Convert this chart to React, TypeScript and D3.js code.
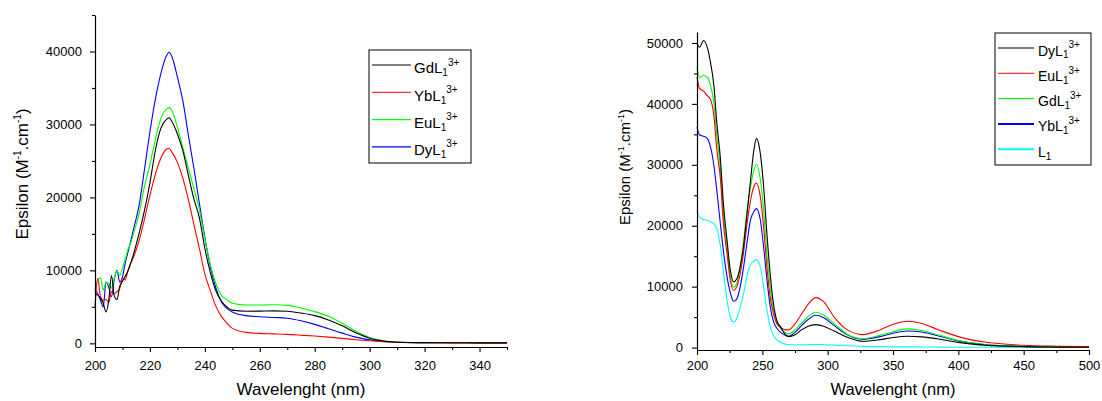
import React, { useEffect, useRef } from 'react';
import * as d3 from 'd3';

// ---------- Left panel data ----------
const LEFT_WL = [200, 201, 202, 203, 204, 205, 206, 207, 208, 209, 210, 211, 212, 213, 214, 216, 218, 220, 222, 224, 226, 227, 228, 230, 232, 234, 236, 238, 240, 242, 244, 246, 248, 250, 255, 260, 265, 270, 275, 280, 285, 290, 295, 300, 305, 310, 320, 330, 340, 350];
const LEFT_GD = [6800, 6600, 6200, 5500, 4300, 5900, 9300, 6500, 6000, 7800, 8500, 9200, 9900, 11000, 12200, 15000, 18200, 22000, 26500, 29500, 30700, 30900, 30400, 28700, 26400, 23000, 19800, 17200, 13000, 9700, 7200, 5800, 5000, 4550, 4400, 4420, 4450, 4400, 4150, 3800, 3200, 2400, 1450, 700, 320, 150, 100, 80, 70, 60];
const LEFT_YB = [5000, 8900, 6400, 5900, 6000, 5600, 7100, 6800, 7100, 7500, 8900, 8700, 10000, 11000, 11800, 14000, 17000, 20300, 23200, 25400, 26600, 26700, 26200, 24800, 22600, 19700, 16300, 13000, 9500, 7200, 5100, 3700, 2800, 2050, 1500, 1370, 1300, 1230, 1120, 1000, 850, 680, 500, 360, 240, 160, 90, 70, 60, 60];
const LEFT_EU = [7300, 8700, 9000, 7300, 8300, 8200, 7600, 8900, 9900, 9300, 10300, 11500, 12900, 13700, 15000, 17700, 21500, 24500, 28000, 30800, 32100, 32300, 31900, 29600, 26800, 24000, 21200, 18300, 14300, 10800, 8200, 6600, 6000, 5500, 5250, 5250, 5300, 5200, 4850, 4350, 3700, 2750, 1650, 800, 350, 170, 100, 80, 70, 60];
const LEFT_DY = [7300, 6800, 5900, 5000, 8400, 7700, 6400, 8700, 10000, 8400, 9100, 11000, 12500, 14000, 15600, 18800, 23800, 29000, 33500, 37000, 39400, 39900, 39300, 36500, 33200, 28500, 24000, 19200, 14500, 10500, 7600, 5700, 4800, 4300, 3800, 3650, 3550, 3450, 3100, 2600, 2000, 1400, 850, 480, 260, 160, 100, 80, 70, 60];
const LEFT_NAMES = ['GdL', 'YbL', 'EuL', 'DyL'];
const LEFT_X_MAJOR = [200, 220, 240, 260, 280, 300, 320, 340];
const LEFT_X_MINOR = [210, 230, 250, 270, 290, 310, 330, 350];
const LEFT_Y_MAJOR = [0, 10000, 20000, 30000, 40000];
const LEFT_Y_MINOR = [5000, 15000, 25000, 35000, 45000];

// ---------- Right panel data ----------
const RIGHT_WL = [200, 202, 205, 208, 210, 213, 215, 218, 220, 223, 225.5, 228, 230.5, 233, 235.5, 238, 241, 243.5, 245.5, 248.5, 251, 253.5, 256, 258.5, 261, 264, 267, 270, 275, 280, 285, 291, 297, 305, 315, 327, 340, 350, 361, 372, 385, 400, 420, 450, 475, 500];
const RIGHT_DY = [50000, 49300, 50400, 49200, 47200, 42800, 37300, 30750, 24200, 17600, 12700, 10800, 11300, 13200, 16500, 21400, 27500, 32400, 34300, 31800, 26400, 18700, 12100, 7200, 4500, 3400, 2300, 1800, 2100, 2900, 3500, 3770, 3500, 2700, 1700, 1030, 1300, 1650, 1850, 1750, 1400, 850, 400, 150, 80, 50];
const RIGHT_EU = [44400, 42500, 42100, 41300, 40900, 37900, 32900, 27500, 20900, 15400, 11050, 9400, 10000, 12100, 15400, 19800, 24200, 26400, 27000, 24700, 19800, 13200, 8300, 5580, 3940, 3300, 2950, 2900, 3900, 5500, 7100, 8200, 7500, 5000, 2900, 2130, 2900, 3800, 4320, 3950, 2900, 1800, 900, 380, 220, 150];
const RIGHT_GD = [46000, 44300, 44700, 44300, 43300, 40000, 35100, 29100, 22500, 16500, 11600, 9900, 10500, 13200, 17100, 22000, 26400, 29100, 30100, 27500, 22500, 15400, 9950, 6100, 4200, 3100, 2500, 2250, 2900, 4000, 5100, 5800, 5300, 3900, 2200, 1480, 2000, 2600, 3060, 2800, 2050, 1150, 500, 200, 100, 60];
const RIGHT_YB = [36200, 34900, 34700, 34300, 33200, 29800, 26100, 20100, 16200, 11600, 9000, 7600, 8000, 9950, 13000, 16800, 21000, 22300, 22800, 20900, 16500, 11200, 6800, 4300, 3200, 2500, 2100, 1850, 2500, 3600, 4600, 5300, 4900, 3600, 2100, 1360, 1800, 2350, 2720, 2550, 1900, 1100, 480, 180, 90, 50];
const RIGHT_L1 = [22400, 21400, 21000, 20900, 20700, 20300, 19600, 16500, 12800, 7760, 5020, 4200, 4760, 6660, 8700, 11600, 13600, 14200, 14400, 13200, 9950, 6200, 3500, 2000, 1250, 850, 600, 500, 460, 450, 480, 500, 470, 400, 300, 200, 150, 120, 110, 100, 80, 60, 40, 30, 20, 10];
const RIGHT_NAMES = ['DyL', 'EuL', 'GdL', 'YbL', 'L'];
const RIGHT_X_MAJOR = [200, 250, 300, 350, 400, 450, 500];
const RIGHT_X_MINOR = [225, 275, 325, 375, 425, 475];
const RIGHT_Y_MAJOR = [0, 10000, 20000, 30000, 40000, 50000];
const RIGHT_Y_MINOR = [5000, 15000, 25000, 35000, 45000];

const FONT = '"Liberation Sans", Arial, Helvetica, sans-serif';

type Series = { name: string; sup: boolean; color: string; values: number[]; legendWidth: number };

type Panel = {
  left: number; right: number; top: number; bottom: number;
  xDomain: [number, number]; yDomain: [number, number];
  wl: number[]; series: Series[]; drawOrder: number[];
  xMajor: number[]; xMinor: number[]; yMajor: number[]; yMinor: number[];
  xPad: number; yPad: number; tickFont: number;
  xTitleX: number; xTitleY: number; xTitleFont: number;
  yTitleX: number; yTitleY: number; yTitleFont: number;
  legend: { x: number; y: number; w: number; h: number; firstY: number; step: number; lineX0: number; lineX1: number; textX: number; font: number; baseOff: number };
};

function drawPanel(svg: d3.Selection<SVGSVGElement, unknown, null, undefined>, p: Panel) {
  const x = d3.scaleLinear().domain(p.xDomain).range([p.left, p.right]);
  const y = d3.scaleLinear().domain(p.yDomain).range([p.bottom, p.top]);
  const g = svg.append('g');

  const line = d3.line<[number, number]>()
    .x(d => x(d[0]))
    .y(d => y(d[1]))
    .curve(d3.curveMonotoneX);

  p.drawOrder.forEach(i => {
    const s = p.series[i];
    g.append('path')
      .attr('d', line(p.wl.map((w, k) => [w, s.values[k]] as [number, number])) || '')
      .attr('fill', 'none')
      .attr('stroke', s.color)
      .attr('stroke-width', 1.1)
      .attr('stroke-linejoin', 'round');
  });

  const styleAxis = (sel: d3.Selection<SVGGElement, unknown, null, undefined>) => {
    sel.attr('font-size', p.tickFont).attr('font-family', FONT);
    sel.selectAll('path.domain').attr('stroke', '#000').attr('stroke-width', 1.2);
    sel.selectAll('.tick line').attr('stroke', '#000').attr('stroke-width', 1.1);
    sel.selectAll('.tick text').attr('fill', '#000');
  };

  // minor ticks
  const xMin = g.append('g').attr('transform', `translate(0,${p.bottom})`)
    .call(d3.axisBottom(x).tickValues(p.xMinor).tickSize(3).tickSizeOuter(0).tickFormat(() => ''));
  xMin.select('path.domain').remove();
  styleAxis(xMin);
  const yMin = g.append('g').attr('transform', `translate(${p.left},0)`)
    .call(d3.axisLeft(y).tickValues(p.yMinor).tickSize(3).tickSizeOuter(0).tickFormat(() => ''));
  yMin.select('path.domain').remove();
  styleAxis(yMin);

  // major axes
  const xAx = g.append('g').attr('transform', `translate(0,${p.bottom})`)
    .call(d3.axisBottom(x).tickValues(p.xMajor).tickSize(5).tickSizeOuter(0).tickPadding(p.xPad).tickFormat(d3.format('d')));
  styleAxis(xAx);
  const yAx = g.append('g').attr('transform', `translate(${p.left},0)`)
    .call(d3.axisLeft(y).tickValues(p.yMajor).tickSize(5).tickSizeOuter(0).tickPadding(p.yPad).tickFormat(d3.format('d')));
  styleAxis(yAx);

  // axis titles
  g.append('text')
    .attr('x', p.xTitleX).attr('y', p.xTitleY)
    .attr('text-anchor', 'middle')
    .attr('font-family', FONT).attr('font-size', p.xTitleFont)
    .text('Wavelenght (nm)');

  const yt = g.append('text')
    .attr('transform', `translate(${p.yTitleX},${p.yTitleY}) rotate(-90)`)
    .attr('text-anchor', 'middle')
    .attr('font-family', FONT).attr('font-size', p.yTitleFont);
  const supSize = Math.round(p.yTitleFont * 0.6);
  yt.append('tspan').text('Epsilon (M');
  yt.append('tspan').attr('font-size', supSize).attr('dy', -p.yTitleFont * 0.4).text('-1');
  yt.append('tspan').attr('dy', p.yTitleFont * 0.4).text('.cm');
  yt.append('tspan').attr('font-size', supSize).attr('dy', -p.yTitleFont * 0.4).text('-1');
  yt.append('tspan').attr('dy', p.yTitleFont * 0.4).text(')');

  // legend
  const L = p.legend;
  g.append('rect')
    .attr('x', L.x).attr('y', L.y).attr('width', L.w).attr('height', L.h)
    .attr('fill', '#fff').attr('stroke', '#000').attr('stroke-width', 1);
  p.series.forEach((s, i) => {
    const ly = L.firstY + i * L.step;
    g.append('line')
      .attr('x1', L.lineX0).attr('x2', L.lineX1).attr('y1', ly).attr('y2', ly)
      .attr('stroke', s.color).attr('stroke-width', s.legendWidth);
    const t = g.append('text')
      .attr('x', L.textX).attr('y', ly + L.baseOff)
      .attr('font-family', FONT).attr('font-size', L.font).attr('fill', '#000');
    const small = Math.round(L.font * 0.68);
    t.append('tspan').text(s.name);
    t.append('tspan').attr('font-size', small).attr('dy', L.font * 0.2).text('1');
    if (s.sup) {
      t.append('tspan').attr('font-size', small).attr('dy', -L.font * 0.72).text('3+');
    }
  });
}

export default function App() {
  const ref = useRef<SVGSVGElement | null>(null);

  useEffect(() => {
    if (!ref.current) return;
    const svg = d3.select(ref.current);
    svg.selectAll('*').remove();

    const leftPanel: Panel = {
      left: 95, right: 507, top: 15, bottom: 347,
      xDomain: [200, 350], yDomain: [-500, 45000],
      wl: LEFT_WL,
      series: [
        { name: LEFT_NAMES[0], sup: true, color: '#000000', values: LEFT_GD, legendWidth: 1 },
        { name: LEFT_NAMES[1], sup: true, color: '#ff0000', values: LEFT_YB, legendWidth: 1 },
        { name: LEFT_NAMES[2], sup: true, color: '#00ff00', values: LEFT_EU, legendWidth: 1.3 },
        { name: LEFT_NAMES[3], sup: true, color: '#0000ff', values: LEFT_DY, legendWidth: 1.3 },
      ],
      drawOrder: [3, 2, 1, 0],
      xMajor: LEFT_X_MAJOR, xMinor: LEFT_X_MINOR, yMajor: LEFT_Y_MAJOR, yMinor: LEFT_Y_MINOR,
      xPad: 9, yPad: 8, tickFont: 13,
      xTitleX: 301, xTitleY: 395, xTitleFont: 17,
      yTitleX: 28, yTitleY: 174, yTitleFont: 17,
      legend: { x: 369, y: 50, w: 102, h: 113, firstY: 65, step: 27.3, lineX0: 372, lineX1: 411, textX: 414, font: 15, baseOff: 8.3 },
    };

    const rightPanel: Panel = {
      left: 697, right: 1089, top: 32, bottom: 350,
      xDomain: [200, 500], yDomain: [-400, 51800],
      wl: RIGHT_WL,
      series: [
        { name: RIGHT_NAMES[0], sup: true, color: '#000000', values: RIGHT_DY, legendWidth: 1 },
        { name: RIGHT_NAMES[1], sup: true, color: '#ff0000', values: RIGHT_EU, legendWidth: 1 },
        { name: RIGHT_NAMES[2], sup: true, color: '#00ff00', values: RIGHT_GD, legendWidth: 1.3 },
        { name: RIGHT_NAMES[3], sup: true, color: '#0000ff', values: RIGHT_YB, legendWidth: 2 },
        { name: RIGHT_NAMES[4], sup: false, color: '#00ffff', values: RIGHT_L1, legendWidth: 2 },
      ],
      drawOrder: [4, 3, 2, 1, 0],
      xMajor: RIGHT_X_MAJOR, xMinor: RIGHT_X_MINOR, yMajor: RIGHT_Y_MAJOR, yMinor: RIGHT_Y_MINOR,
      xPad: 6, yPad: 9, tickFont: 13,
      xTitleX: 893, xTitleY: 395, xTitleFont: 16.5,
      yTitleX: 630, yTitleY: 167, yTitleFont: 15,
      legend: { x: 995, y: 33, w: 96, h: 132, firstY: 48, step: 25.3, lineX0: 998, lineX1: 1034, textX: 1038, font: 14, baseOff: 7.5 },
    };

    drawPanel(svg, leftPanel);
    drawPanel(svg, rightPanel);
  }, []);

  return (
    <svg
      ref={ref}
      width={1102}
      height={401}
      viewBox="0 0 1102 401"
      style={{ position: 'absolute', left: 0, top: 0, background: '#fff' }}
    />
  );
}
